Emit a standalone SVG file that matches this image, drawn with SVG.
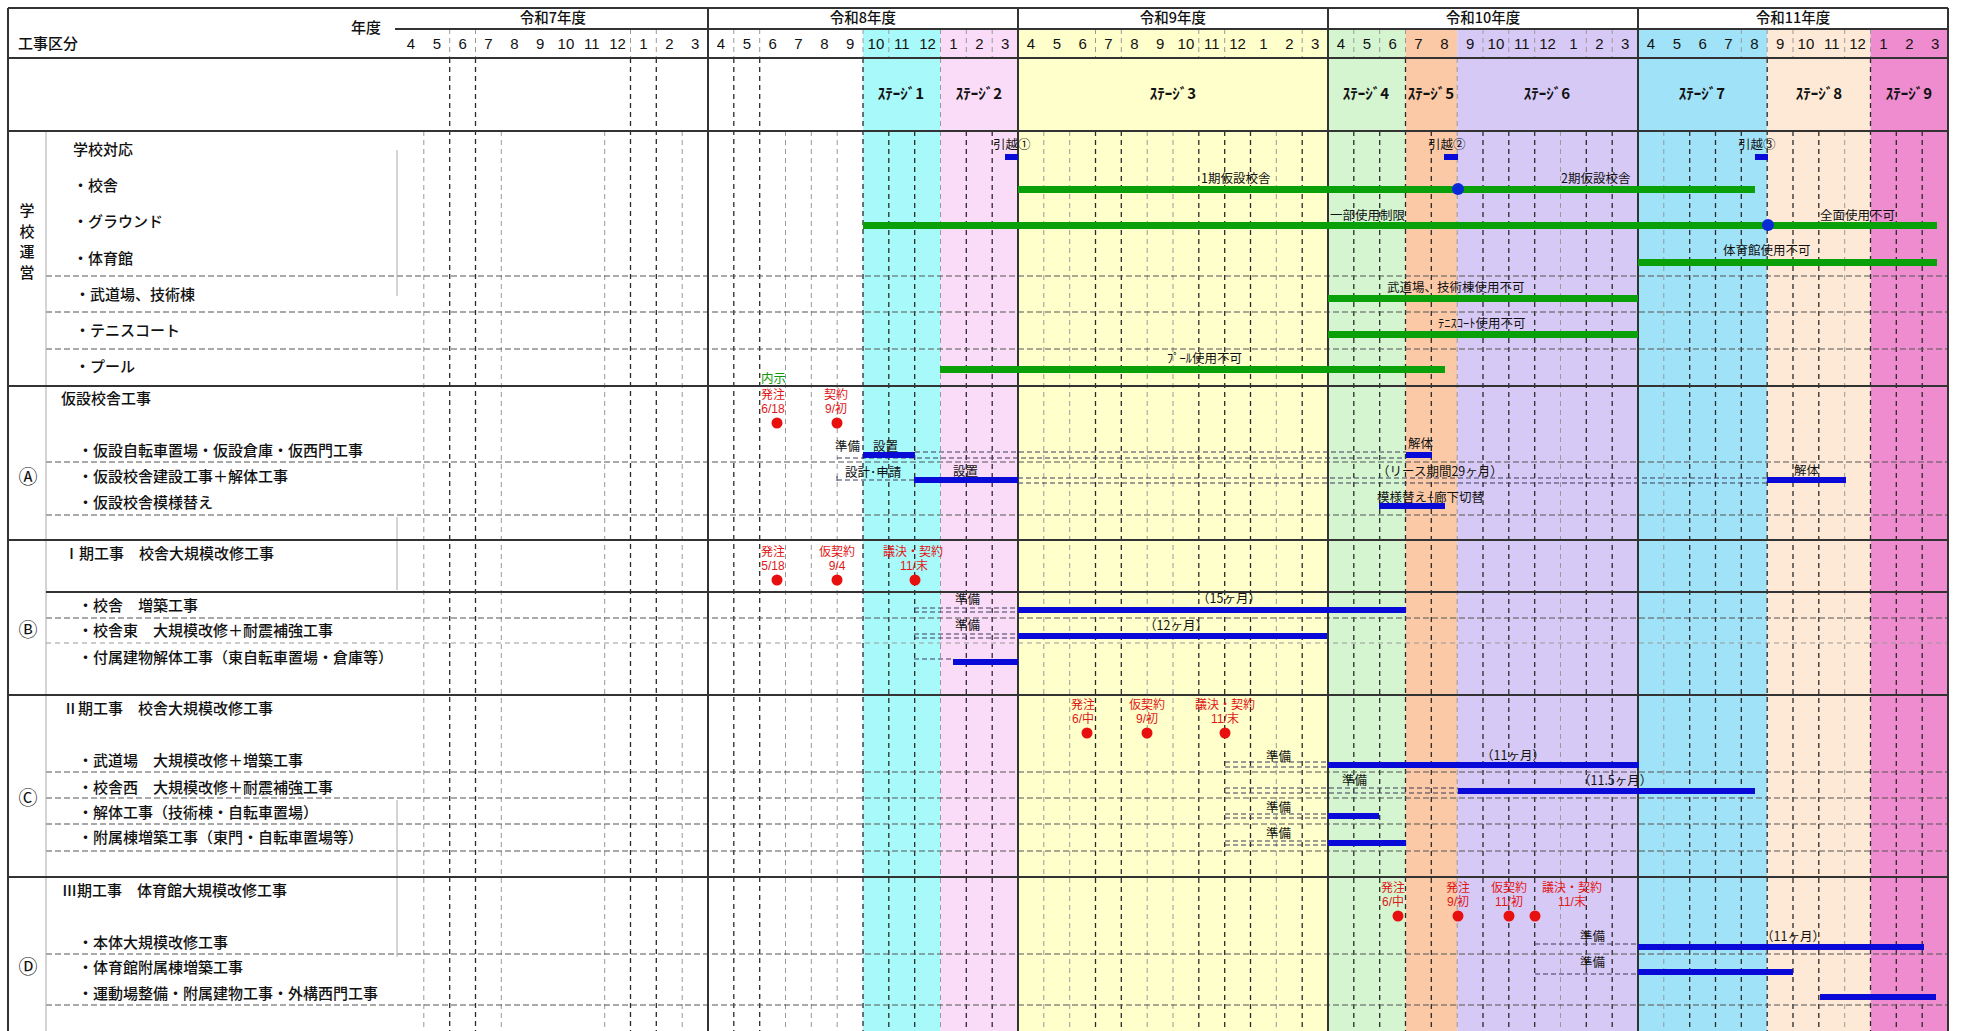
<svg xmlns="http://www.w3.org/2000/svg" width="1961" height="1031" viewBox="0 0 1961 1031">
<style>
text{font-family:"Noto Sans CJK JP","Noto Sans CJK SC",sans-serif;fill:#111}
.lbl{font-size:15px;font-weight:500}
.sm{font-size:12.5px}
.ctr{text-anchor:middle}
.red{fill:#e01818;font-family:"Liberation Sans","Noto Sans CJK JP",sans-serif;font-size:12px}
.grn{fill:#0a9a0a}
.mon{font-family:"Liberation Sans Narrow","Liberation Sans",Arial,sans-serif;font-size:15px;text-anchor:middle}
.yr{font-size:14.5px;font-weight:500;text-anchor:middle}
.stg{font-size:15px;font-weight:700;text-anchor:middle}
.cir{font-size:19px;text-anchor:middle}
.gb{fill:#0aa00a}
.bb{fill:#0a0ad8}
.dot{fill:#e8100e}
.dl{stroke:#2a2a2a;stroke-width:1.3;stroke-dasharray:5 4;fill:none}
.dll{stroke:#999;stroke-width:1;stroke-dasharray:5 4;fill:none}
.hd{stroke:#555;stroke-width:1.1;stroke-dasharray:6 3;fill:none}
.pd{stroke:#3a3a5a;stroke-width:1;stroke-dasharray:5 3;fill:none}
.sl{stroke:#333;stroke-width:2;fill:none}
.gl{stroke:#aaa;stroke-width:1;fill:none}
</style>
<rect x="0" y="0" width="1961" height="1031" fill="#fff"/>
<g id="stage-bands">
<rect x="863" y="29" width="77.5" height="1002" fill="#a8fafa"/>
<rect x="940.5" y="29" width="77.5" height="1002" fill="#fadcf8"/>
<rect x="1018" y="29" width="310" height="1002" fill="#ffffcc"/>
<rect x="1328" y="29" width="77.5" height="1002" fill="#d4f5d0"/>
<rect x="1405.5" y="29" width="51.7" height="1002" fill="#fbc9a6"/>
<rect x="1457.2" y="29" width="180.8" height="1002" fill="#d7c9f6"/>
<rect x="1638" y="29" width="129.2" height="1002" fill="#a0e2f8"/>
<rect x="1767.2" y="29" width="103.3" height="1002" fill="#fde9d5"/>
<rect x="1870.5" y="29" width="77.5" height="1002" fill="#ee8ccf"/>
</g>
<g id="grid">
<path class="dll" d="M423.8 131V1031M501.3 131V1031M604.7 131V1031M682.2 131V1031M785.5 131V1031M811.3 131V1031M837.2 131V1031M940.5 131V1031M1043.8 131V1031M1069.7 131V1031M1147.2 131V1031M1173 131V1031M1276.3 131V1031M1457.2 131V1031M1560.5 131V1031M1663.8 131V1031M1844.7 131V1031"/>
<path class="dl" d="M449.7 58V1031M475.5 58V1031M630.5 58V1031M656.3 58V1031M733.8 58V1031M759.7 58V1031M863 58V1031M888.8 131V1031M914.7 131V1031M966.3 131V1031M992.2 131V1031M1095.5 131V1031M1121.3 131V1031M1198.8 131V1031M1224.7 131V1031M1250.5 131V1031M1302.2 131V1031M1353.8 131V1031M1379.7 131V1031M1405.5 58V1031M1431.3 131V1031M1483 131V1031M1508.8 131V1031M1534.7 131V1031M1586.3 131V1031M1612.2 131V1031M1689.7 131V1031M1715.5 131V1031M1741.3 131V1031M1767.2 58V1031M1793 131V1031M1818.8 131V1031M1870.5 58V1031M1896.3 131V1031M1922.2 131V1031"/>
<path class="dll" d="M940.5 58V131M1457.2 58V131"/>
<path class="dll" d="M449.7 29V58M475.5 29V58M630.5 29V58M656.3 29V58M733.8 29V58M759.7 29V58M863 29V58M888.8 29V58M940.5 29V58M966.3 29V58M992.2 29V58M1095.5 29V58M1121.3 29V58M1198.8 29V58M1224.7 29V58M1302.2 29V58M1353.8 29V58M1379.7 29V58M1405.5 29V58M1483 29V58M1508.8 29V58M1534.7 29V58M1586.3 29V58M1612.2 29V58M1741.3 29V58M1767.2 29V58M1793 29V58M1844.7 29V58M1870.5 29V58"/>
<path class="hd" d="M46 276H1948M46 312H1948M46 349H1948M46 462H1948M46 515H1948M46 618H1948M46 772H1948M46 798H1948M46 824H1948M46 851H1948M46 954H1948M46 1005H1948"/>
<path class="dll" d="M46 643H1948"/>
<path class="gl" d="M46 131V1031M397 150V296M397 517V590M397 800V957"/>
<path class="sl" d="M8 8H1948M8 8V1031M1948 8V1031M395 29H1948M8 58H1948M8 131H1948M8 386H1948M8 540H1948M46 592H1948M8 695H1948M8 877H1948M708 8V1031M1018 8V1031M1328 8V1031M1638 8V1031"/>
</g>
<g id="header">
<text class="lbl" x="18" y="49">工事区分</text>
<text class="lbl" x="351" y="33">年度</text>
<text class="yr" x="553" y="23">令和7年度</text>
<text class="yr" x="863" y="23">令和8年度</text>
<text class="yr" x="1173" y="23">令和9年度</text>
<text class="yr" x="1483" y="23">令和10年度</text>
<text class="yr" x="1793" y="23">令和11年度</text>
<g id="months">
<text class="mon" x="410.9" y="49">4</text><text class="mon" x="436.8" y="49">5</text><text class="mon" x="462.6" y="49">6</text><text class="mon" x="488.4" y="49">7</text><text class="mon" x="514.3" y="49">8</text><text class="mon" x="540.1" y="49">9</text><text class="mon" x="565.9" y="49">10</text><text class="mon" x="591.8" y="49">11</text><text class="mon" x="617.6" y="49">12</text><text class="mon" x="643.4" y="49">1</text><text class="mon" x="669.3" y="49">2</text><text class="mon" x="695.1" y="49">3</text>
<text class="mon" x="720.9" y="49">4</text><text class="mon" x="746.8" y="49">5</text><text class="mon" x="772.6" y="49">6</text><text class="mon" x="798.4" y="49">7</text><text class="mon" x="824.3" y="49">8</text><text class="mon" x="850.1" y="49">9</text><text class="mon" x="875.9" y="49">10</text><text class="mon" x="901.8" y="49">11</text><text class="mon" x="927.6" y="49">12</text><text class="mon" x="953.4" y="49">1</text><text class="mon" x="979.3" y="49">2</text><text class="mon" x="1005.1" y="49">3</text>
<text class="mon" x="1030.9" y="49">4</text><text class="mon" x="1056.8" y="49">5</text><text class="mon" x="1082.6" y="49">6</text><text class="mon" x="1108.4" y="49">7</text><text class="mon" x="1134.3" y="49">8</text><text class="mon" x="1160.1" y="49">9</text><text class="mon" x="1185.9" y="49">10</text><text class="mon" x="1211.8" y="49">11</text><text class="mon" x="1237.6" y="49">12</text><text class="mon" x="1263.4" y="49">1</text><text class="mon" x="1289.3" y="49">2</text><text class="mon" x="1315.1" y="49">3</text>
<text class="mon" x="1340.9" y="49">4</text><text class="mon" x="1366.8" y="49">5</text><text class="mon" x="1392.6" y="49">6</text><text class="mon" x="1418.4" y="49">7</text><text class="mon" x="1444.3" y="49">8</text><text class="mon" x="1470.1" y="49">9</text><text class="mon" x="1495.9" y="49">10</text><text class="mon" x="1521.8" y="49">11</text><text class="mon" x="1547.6" y="49">12</text><text class="mon" x="1573.4" y="49">1</text><text class="mon" x="1599.3" y="49">2</text><text class="mon" x="1625.1" y="49">3</text>
<text class="mon" x="1650.9" y="49">4</text><text class="mon" x="1676.8" y="49">5</text><text class="mon" x="1702.6" y="49">6</text><text class="mon" x="1728.4" y="49">7</text><text class="mon" x="1754.3" y="49">8</text><text class="mon" x="1780.1" y="49">9</text><text class="mon" x="1805.9" y="49">10</text><text class="mon" x="1831.8" y="49">11</text><text class="mon" x="1857.6" y="49">12</text><text class="mon" x="1883.4" y="49">1</text><text class="mon" x="1909.3" y="49">2</text><text class="mon" x="1935.1" y="49">3</text>
</g>
<g id="stages">
<text class="stg" x="901" y="99">ｽﾃｰｼﾞ1</text>
<text class="stg" x="979" y="99">ｽﾃｰｼﾞ2</text>
<text class="stg" x="1173" y="99">ｽﾃｰｼﾞ3</text>
<text class="stg" x="1366" y="99">ｽﾃｰｼﾞ4</text>
<text class="stg" x="1431" y="99">ｽﾃｰｼﾞ5</text>
<text class="stg" x="1547" y="99">ｽﾃｰｼﾞ6</text>
<text class="stg" x="1702" y="99">ｽﾃｰｼﾞ7</text>
<text class="stg" x="1819" y="99">ｽﾃｰｼﾞ8</text>
<text class="stg" x="1909" y="99">ｽﾃｰｼﾞ9</text>
</g>
</g>
<g id="section-school">
<text class="lbl ctr" x="27" y="216">学</text>
<text class="lbl ctr" x="27" y="237">校</text>
<text class="lbl ctr" x="27" y="257">運</text>
<text class="lbl ctr" x="27" y="278">営</text>
<text class="lbl" x="73" y="155">学校対応</text>
<text class="lbl" x="73" y="191">・校舎</text>
<text class="lbl" x="73" y="227">・グラウンド</text>
<text class="lbl" x="73" y="264">・体育館</text>
<text class="lbl" x="75" y="300">・武道場、技術棟</text>
<text class="lbl" x="75" y="336">・テニスコート</text>
<text class="lbl" x="75" y="372">・プール</text>
<g id="moves">
<text class="sm" x="993" y="149">引越①</text>
<text class="sm" x="1428" y="149">引越②</text>
<text class="sm" x="1738" y="149">引越③</text>
<rect class="bb" x="1005" y="154" width="13" height="6"/>
<rect class="bb" x="1444" y="154" width="14" height="6"/>
<rect class="bb" x="1755" y="154" width="13" height="6"/>
</g>
<g id="use-bars">
<rect class="gb" x="1018" y="186" width="737" height="7"/>
<rect class="gb" x="863" y="222" width="1074" height="7"/>
<rect class="gb" x="1638" y="259" width="299" height="7"/>
<rect class="gb" x="1328" y="295" width="310" height="7"/>
<rect class="gb" x="1328" y="331" width="310" height="7"/>
<rect class="gb" x="940" y="366" width="505" height="7"/>
<circle cx="1458" cy="189" r="6" fill="#0a2ad8"/>
<circle cx="1768" cy="225" r="6" fill="#0a2ad8"/>
<text class="sm" x="1201" y="183">1期仮設校舎</text>
<text class="sm" x="1561" y="183">2期仮設校舎</text>
<text class="sm" x="1330" y="220">一部使用制限</text>
<text class="sm" x="1820" y="220">全面使用不可</text>
<text class="sm" x="1723" y="255">体育館使用不可</text>
<text class="sm" x="1387" y="292">武道場、技術棟使用不可</text>
<text class="sm" x="1438" y="328">ﾃﾆｽｺｰﾄ使用不可</text>
<text class="sm" x="1167" y="363">ﾌﾟｰﾙ使用不可</text>
<text class="sm grn" x="761" y="383">内示</text>
</g>
</g>
<g id="section-A">
<text class="cir" x="28" y="484">Ⓐ</text>
<text class="lbl" x="61" y="404">仮設校舎工事</text>
<text class="lbl" x="78" y="456">・仮設自転車置場・仮設倉庫・仮西門工事</text>
<text class="lbl" x="78" y="482">・仮設校舎建設工事＋解体工事</text>
<text class="lbl" x="78" y="508">・仮設校舎模様替え</text>
<text class="red ctr" x="773" y="399">発注</text>
<text class="red ctr" x="773" y="413">6/18</text>
<circle class="dot" cx="777" cy="423" r="5.5"/>
<text class="red ctr" x="836" y="399">契約</text>
<text class="red ctr" x="836" y="413">9/初</text>
<circle class="dot" cx="837" cy="423" r="5.5"/>
<path class="pd" d="M915 452H1406M837 458H1406M837 480H914M837 476V483M1018 478H1767M1018 483H1767"/>
<text class="sm" x="835" y="451">準備</text>
<text class="sm" x="873" y="451">設置</text>
<rect class="bb" x="863" y="452" width="52" height="6"/>
<text class="sm" x="1408" y="448">解体</text>
<rect class="bb" x="1406" y="452" width="26" height="6"/>
<text class="sm" x="845" y="477">設計･申請</text>
<text class="sm" x="953" y="476">設置</text>
<rect class="bb" x="914" y="477" width="104" height="6"/>
<text class="sm" x="1377" y="476">（リース期間29ヶ月）</text>
<text class="sm" x="1794" y="475">解体</text>
<rect class="bb" x="1767" y="477" width="79" height="6"/>
<text class="sm" x="1377" y="502">模様替え+廊下切替</text>
<rect class="bb" x="1379" y="503" width="66" height="6"/>
</g>
<g id="section-B">
<text class="cir" x="28" y="637">Ⓑ</text>
<text class="lbl" x="64" y="559">Ⅰ期工事　校舎大規模改修工事</text>
<text class="lbl" x="78" y="611">・校舎　増築工事</text>
<text class="lbl" x="78" y="636">・校舎東　大規模改修＋耐震補強工事</text>
<text class="lbl" x="78" y="663">・付属建物解体工事（東自転車置場・倉庫等）</text>
<text class="red ctr" x="773" y="556">発注</text>
<text class="red ctr" x="773" y="570">5/18</text>
<circle class="dot" cx="777" cy="580" r="5.5"/>
<text class="red ctr" x="837" y="556">仮契約</text>
<text class="red ctr" x="837" y="570">9/4</text>
<circle class="dot" cx="837" cy="580" r="5.5"/>
<text class="red ctr" x="913" y="556">議決・契約</text>
<text class="red ctr" x="914" y="570">11/末</text>
<circle class="dot" cx="915" cy="580" r="5.5"/>
<path class="pd" d="M914 608H1018M914 612H1018M914 634H1018M914 638H1018M914 659H953"/>
<text class="sm" x="955" y="604">準備</text>
<rect class="bb" x="1018" y="607" width="388" height="6"/>
<text class="sm" x="1197" y="603">（15ヶ月）</text>
<text class="sm" x="955" y="630">準備</text>
<rect class="bb" x="1018" y="633" width="309" height="6"/>
<text class="sm" x="1144" y="630">（12ヶ月）</text>
<rect class="bb" x="953" y="659" width="65" height="6"/>
</g>
<g id="section-C">
<text class="cir" x="28" y="805">Ⓒ</text>
<text class="lbl" x="63" y="714">Ⅱ期工事　校舎大規模改修工事</text>
<text class="lbl" x="78" y="766">・武道場　大規模改修＋増築工事</text>
<text class="lbl" x="78" y="793">・校舎西　大規模改修＋耐震補強工事</text>
<text class="lbl" x="78" y="818">・解体工事（技術棟・自転車置場）</text>
<text class="lbl" x="78" y="843">・附属棟増築工事（東門・自転車置場等）</text>
<text class="red ctr" x="1083" y="709">発注</text>
<text class="red ctr" x="1083" y="723">6/中</text>
<circle class="dot" cx="1087" cy="733" r="5.5"/>
<text class="red ctr" x="1147" y="709">仮契約</text>
<text class="red ctr" x="1147" y="723">9/初</text>
<circle class="dot" cx="1147" cy="733" r="5.5"/>
<text class="red ctr" x="1225" y="709">議決・契約</text>
<text class="red ctr" x="1225" y="723">11/末</text>
<circle class="dot" cx="1225" cy="733" r="5.5"/>
<path class="pd" d="M1225 762H1328M1225 767H1328M1225 788H1458M1225 793H1458M1225 814H1328M1225 818H1328M1225 841H1328M1225 845H1328"/>
<text class="sm" x="1266" y="761">準備</text>
<rect class="bb" x="1328" y="762" width="311" height="6"/>
<text class="sm" x="1481" y="760">（11ヶ月）</text>
<text class="sm" x="1342" y="785">準備</text>
<rect class="bb" x="1458" y="788" width="297" height="6"/>
<text class="sm" x="1578" y="785">（11.5ヶ月）</text>
<text class="sm" x="1266" y="812">準備</text>
<rect class="bb" x="1328" y="813" width="51" height="6"/>
<text class="sm" x="1266" y="838">準備</text>
<rect class="bb" x="1328" y="840" width="78" height="6"/>
</g>
<g id="section-D">
<text class="cir" x="28" y="974">Ⓓ</text>
<text class="lbl" x="62" y="896">Ⅲ期工事　体育館大規模改修工事</text>
<text class="lbl" x="78" y="948">・本体大規模改修工事</text>
<text class="lbl" x="78" y="973">・体育館附属棟増築工事</text>
<text class="lbl" x="78" y="999">・運動場整備・附属建物工事・外構西門工事</text>
<text class="red ctr" x="1393" y="892">発注</text>
<text class="red ctr" x="1393" y="906">6/中</text>
<circle class="dot" cx="1398" cy="916" r="5.5"/>
<text class="red ctr" x="1458" y="892">発注</text>
<text class="red ctr" x="1458" y="906">9/初</text>
<circle class="dot" cx="1458" cy="916" r="5.5"/>
<text class="red ctr" x="1509" y="892">仮契約</text>
<text class="red ctr" x="1509" y="906">11/初</text>
<circle class="dot" cx="1509" cy="916" r="5.5"/>
<text class="red ctr" x="1572" y="892">議決・契約</text>
<text class="red ctr" x="1572" y="906">11/末</text>
<circle class="dot" cx="1535" cy="916" r="5.5"/>
<path class="pd" d="M1535 944H1638M1535 974H1638"/>
<text class="sm" x="1580" y="941">準備</text>
<rect class="bb" x="1638" y="944" width="286" height="6"/>
<text class="sm" x="1761" y="941">（11ヶ月）</text>
<text class="sm" x="1580" y="967">準備</text>
<rect class="bb" x="1638" y="969" width="155" height="6"/>
<rect class="bb" x="1820" y="994" width="116" height="6"/>
</g>
</svg>
